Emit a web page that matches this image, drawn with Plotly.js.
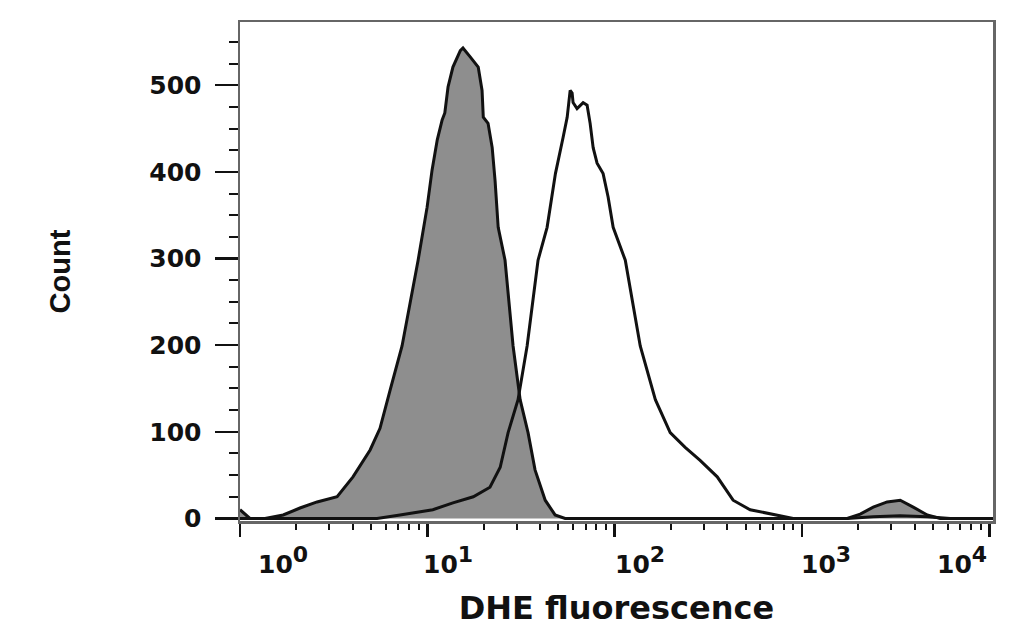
<!DOCTYPE html>
<html>
<head>
<meta charset="utf-8">
<script src="https://cdn.plot.ly/plotly-3.0.1.min.js"></script>
<style>html,body{margin:0;padding:0;background:#fff;}#chart{width:1022px;height:627px;}</style>
</head>
<body>
<div id="chart"></div>
<script>
// Control (filled grey) histogram: DHE fluorescence vs count
const ctrlFluor = [1.0, 1.13, 1.36, 1.70, 2.09, 2.58, 3.30, 4.01, 4.95, 5.59, 6.33, 7.33, 8.93, 9.49, 9.97, 10.6, 11.3, 12.0, 12.4, 12.9, 13.7, 15.0, 15.5, 16.9, 18.7, 19.6, 19.9, 21.1, 22.2, 23.0, 23.9, 26.0, 28.7, 31.3, 34.5, 37.6, 42.6, 48.1, 54.4, 286, 1745, 2047, 2402, 2851, 3347, 3927, 4666, 5472, 10500];
const ctrlCount = [10, 0, 0, 4, 12, 19, 25, 48, 79, 104, 148, 199, 298, 333, 359, 402, 437, 460, 468, 498, 521, 540, 543, 533, 521, 494, 463, 456, 428, 390, 336, 298, 199, 137, 99, 56, 21, 4, 0, 0, 0, 5, 13, 19, 21, 13, 4, 0, 0];

// DHE-treated (open) histogram
const dheFluor = [1.0, 5.39, 7.15, 10.7, 13.7, 17.6, 21.6, 24.5, 27.0, 30.5, 34.1, 39.0, 43.6, 48.3, 53.1, 55.8, 57.9, 59.3, 60.0, 63.0, 67.9, 71.3, 74.0, 76.8, 80.6, 86.8, 92.3, 98.2, 114, 137, 165, 198, 238, 286, 353, 429, 529, 738, 898, 1745, 2402, 3347, 4666, 6190, 10500];
const dheCount = [0, 0, 4, 10, 18, 25, 36, 59, 99, 137, 199, 298, 336, 398, 440, 463, 494, 491, 480, 473, 480, 477, 456, 428, 410, 398, 371, 336, 298, 199, 137, 99, 82, 67, 48, 21, 10, 4, 0, 0, 2, 3, 2, 0, 0];

// Axis ticks / labels
const xTickVals = [1, 10, 100, 1000, 10000];
const xTickExp = ['0', '1', '2', '3', '4'];
const xLabelShift = [43, 21, 25, 24, -27];
const yTickVals = [0, 100, 200, 300, 400, 500];
const yTickText = ['0', '100', '200', '300', '400', '500'];

const xMinor = [];
for (let d = 0; d < 4; d++) for (let k = 2; k <= 9; k++) xMinor.push(k * Math.pow(10, d));

const labelFont = {family: 'DejaVu Sans', size: 25, color: '#111', weight: 'bold'};

const traces = [
  {x: ctrlFluor, y: ctrlCount, type: 'scatter', mode: 'lines', fill: 'tozeroy',
   fillcolor: '#8e8e8e', line: {color: '#111', width: 3}, hoverinfo: 'x+y'},
  {x: dheFluor, y: dheCount, type: 'scatter', mode: 'lines',
   line: {color: '#111', width: 3}, hoverinfo: 'x+y'}
];

const annotations = xTickVals.map((v, i) => ({
  x: Math.log10(v), xref: 'x', y: 0, yref: 'paper', yanchor: 'top', xanchor: 'center',
  yshift: -19, xshift: xLabelShift[i],
  text: '10<sup><span style="font-size:22px">' + xTickExp[i] + '</span></sup>',
  showarrow: false, font: labelFont
}));

const layout = {
  width: 1022, height: 627,
  margin: {l: 240, r: 29, t: 22, b: 106},
  paper_bgcolor: '#fff', plot_bgcolor: '#fff',
  showlegend: false,
  xaxis: {
    type: 'log', range: [0, 4.02], tickvals: xTickVals, showticklabels: false,
    ticks: 'outside', ticklen: 13, tickwidth: 2.5, tickcolor: '#111',
    minor: {tickvals: xMinor, ticks: 'outside', ticklen: 6, tickwidth: 2, tickcolor: '#111', showgrid: false},
    showgrid: false, zeroline: false, showline: true, mirror: true, linecolor: '#666', linewidth: 2.5,
    title: {text: 'DHE fluorescence', font: {family: 'DejaVu Sans', size: 32, color: '#111', weight: 'bold'}, standoff: 65},
    automargin: false
  },
  yaxis: {
    range: [-3, 573], tickvals: yTickVals, ticktext: yTickText,
    ticks: 'outside', ticklen: 23, tickwidth: 2.5, tickcolor: '#111',
    minor: {dtick: 25, ticks: 'outside', ticklen: 9, tickwidth: 2, tickcolor: '#111', showgrid: false},
    tickfont: labelFont, ticklabelstandoff: 8,
    showgrid: false, zeroline: false, showline: true, mirror: true, linecolor: '#666', linewidth: 2.5,
    title: {text: 'Count', font: {family: 'Liberation Sans', size: 29, color: '#111', weight: 'bold'}, standoff: 70},
    automargin: false
  },
  annotations: annotations
};

Plotly.newPlot('chart', traces, layout, {displayModeBar: false, staticPlot: true});
</script>
</body>
</html>
